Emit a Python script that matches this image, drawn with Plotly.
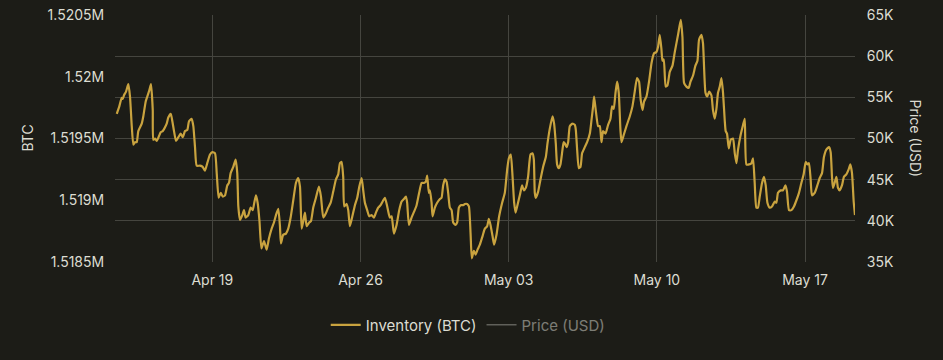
import pandas as pd
import plotly.graph_objects as go

# ---- data ----
start_time = "2021-04-14 00:00"
hours = [
    11.7, 14.6, 17.3, 18.5, 19.9, 22.2, 24.8, 26.7, 28.7, 30.5, 32.4, 34.3, 36.1, 40.0, 41.8, 44.5, 46.3, 48.6, 50.5, 52.5,
    53.1, 55.1, 57.0, 59.6, 61.5, 63.8, 65.6, 68.3, 70.1, 72.9, 74.7, 76.6, 78.9, 81.5, 84.2, 86.5, 89.1, 91.7, 93.6, 96.6,
    98.5, 100.4, 102.3, 106.1, 109.1, 111.7, 114.3, 117.4, 120.0, 123.1, 125.0, 127.2, 129.5, 131.8, 134.4, 137.0, 138.9, 140.8, 143.8, 146.5,
    148.3, 149.5, 151.4, 154.0, 155.9, 157.8, 160.8, 163.5, 165.8, 167.6, 169.5, 171.4, 173.5, 175.7, 178.6, 181.6, 184.2, 187.3, 189.9, 192.2,
    194.8, 196.7, 197.8, 200.4, 203.5, 206.1, 208.8, 211.8, 214.8, 217.4, 219.4, 221.3, 223.1, 225.0, 227.0, 229.9, 231.8, 234.4, 237.5, 240.9,
    243.2, 245.8, 248.5, 251.4, 254.2, 257.1, 260.2, 262.8, 264.7, 266.6, 268.4, 269.6, 272.3, 274.1, 276.0, 279.1, 281.7, 284.3, 286.6, 289.3,
    291.1, 293.0, 295.6, 297.9, 300.6, 303.2, 305.5, 308.1, 310.8, 313.1, 315.7, 318.3, 321.3, 323.3, 325.9, 328.9, 331.9, 334.6, 337.2, 339.5,
    340.9, 342.9, 345.9, 348.9, 351.6, 354.5, 357.3, 359.9, 362.1, 363.6, 365.5, 366.7, 368.6, 369.7, 372.3, 374.9, 378.0, 379.9, 381.7, 383.7,
    385.6, 387.4, 389.3, 391.3, 393.1, 395.8, 397.6, 399.5, 401.5, 404.4, 406.3, 408.9, 410.9, 412.8, 414.2, 416.5, 418.5, 420.7, 423.3, 426.4,
    429.0, 431.6, 433.5, 435.4, 437.7, 439.5, 442.2, 445.2, 448.6, 451.6, 454.3, 456.2, 458.4, 460.4, 462.2, 463.8, 465.6, 468.6, 471.2, 473.2,
    475.4, 478.0, 480.7, 483.0, 484.5, 485.6, 486.7, 489.4, 492.1, 495.0, 498.1, 500.0, 502.6, 505.7, 507.5, 509.4, 510.9, 512.8, 514.7, 517.0,
    518.3, 519.6, 521.6, 523.4, 525.3, 528.4, 531.0, 532.1, 533.6, 535.5, 537.4, 539.2, 542.3, 544.9, 548.0, 549.9, 551.7, 552.8, 554.7, 557.4,
    559.3, 561.2, 563.0, 565.8, 568.7, 571.4, 573.2, 575.1, 577.1, 578.9, 580.8, 582.7, 583.9, 586.5, 589.5, 593.3, 596.3, 598.9, 601.5, 603.8,
    605.7, 607.7, 609.5, 612.2, 615.1, 617.9, 620.8, 623.5, 625.3, 627.3, 629.2, 630.3, 631.8, 634.0, 636.0, 638.6, 641.7, 644.3, 648.0, 651.1,
    653.0, 654.8, 657.5, 660.1, 662.1, 665.0, 667.7, 670.0, 671.8, 674.5, 676.3, 679.1, 681.1, 683.3, 685.8, 687.6, 689.6, 691.5, 693.3, 695.3,
    697.2, 699.0, 700.9, 702.0, 703.5, 705.5, 707.7, 710.3, 712.3, 714.2, 716.0, 719.0, 721.7, 723.6, 725.5, 728.5, 731.2, 733.0, 734.9, 736.8,
    738.6, 740.6, 743.2, 745.4, 747.4, 749.3, 751.9, 754.5, 757.6, 759.5, 761.3, 764.4, 767.0, 769.7, 771.5, 773.8, 776.5, 779.4, 782.2, 785.1,
    787.8, 790.4, 792.7, 794.6, 796.4, 798.3, 799.8, 802.9, 805.9, 808.6, 811.2, 813.4, 816.1, 819.1, 821.0, 822.5, 823.6, 825.5, 827.5, 829.3,
    831.2, 833.8, 836.1, 838.8, 841.4, 843.3, 845.2, 847.1, 848.6,
]
inventory_btc = [
    1519700, 1519760, 1519830, 1519820, 1519850, 1519880, 1519940, 1519840, 1519600, 1519450, 1519470, 1519470, 1519560, 1519620, 1519680, 1519800, 1519840, 1519890, 1519940, 1519730,
    1519490, 1519500, 1519480, 1519520, 1519550, 1519560, 1519580, 1519620, 1519670, 1519700, 1519640, 1519560, 1519480, 1519510, 1519540, 1519510, 1519560, 1519570, 1519640, 1519660,
    1519600, 1519430, 1519280, 1519280, 1519270, 1519240, 1519300, 1519370, 1519390, 1519380, 1519220, 1519020, 1519060, 1519030, 1519040, 1519120, 1519140, 1519220, 1519270, 1519330,
    1519220, 1518950, 1518840, 1518880, 1518920, 1518860, 1518880, 1518940, 1518920, 1518980, 1519040, 1518980, 1518830, 1518610, 1518670, 1518600, 1518690, 1518770, 1518820, 1518880,
    1518930, 1518790, 1518650, 1518720, 1518730, 1518770, 1518860, 1519000, 1519140, 1519180, 1519110, 1518770, 1518830, 1518900, 1518790, 1518820, 1518830, 1518940, 1519020, 1519110,
    1519030, 1518860, 1518890, 1518940, 1518980, 1519070, 1519170, 1519210, 1519300, 1519310, 1519190, 1518950, 1518970, 1518920, 1518790, 1518880, 1518960, 1519020, 1519110, 1519180,
    1519080, 1518980, 1518920, 1518870, 1518880, 1518860, 1518900, 1518940, 1518960, 1518990, 1519020, 1518950, 1518860, 1518870, 1518730, 1518800, 1518920, 1518990, 1519010, 1519030,
    1518980, 1518800, 1518860, 1518910, 1518960, 1519060, 1519140, 1519140, 1519150, 1519200, 1519060, 1519080, 1518980, 1518870, 1518940, 1518980, 1519010, 1519020, 1519120, 1519170,
    1519150, 1519060, 1518940, 1518920, 1518820, 1518800, 1518820, 1518940, 1518960, 1518960, 1518970, 1518970, 1518950, 1518730, 1518530, 1518590, 1518560, 1518600, 1518640, 1518710,
    1518770, 1518790, 1518850, 1518800, 1518710, 1518640, 1518720, 1518870, 1518980, 1519060, 1519250, 1519340, 1519370, 1519190, 1518980, 1518900, 1518950, 1519040, 1519120, 1519080,
    1519100, 1519190, 1519370, 1519380, 1519330, 1519060, 1519020, 1519070, 1519170, 1519270, 1519350, 1519460, 1519580, 1519680, 1519620, 1519460, 1519290, 1519260, 1519290, 1519410,
    1519470, 1519460, 1519430, 1519470, 1519600, 1519620, 1519610, 1519570, 1519410, 1519260, 1519270, 1519380, 1519430, 1519470, 1519540, 1519650, 1519760, 1519840, 1519730, 1519600,
    1519600, 1519470, 1519560, 1519540, 1519610, 1519660, 1519760, 1519740, 1519870, 1519960, 1519870, 1519570, 1519470, 1519530, 1519600, 1519680, 1519760, 1519880, 1519990, 1519960,
    1519810, 1519730, 1519800, 1519840, 1519960, 1520110, 1520190, 1520200, 1520240, 1520340, 1520220, 1520130, 1520140, 1519920, 1519930, 1520040, 1520090, 1520200, 1520340, 1520460,
    1520320, 1519950, 1519920, 1519910, 1519960, 1520010, 1520090, 1520130, 1520300, 1520340, 1520270, 1519870, 1519840, 1519880, 1519850, 1519730, 1519660, 1519740, 1519870, 1519920,
    1519990, 1519870, 1519650, 1519560, 1519540, 1519420, 1519490, 1519500, 1519380, 1519300, 1519410, 1519530, 1519610, 1519660, 1519290, 1519290, 1519300, 1519340, 1519140, 1518940,
    1518940, 1519030, 1519140, 1519190, 1519120, 1518980, 1518940, 1518950, 1518990, 1518980, 1519060, 1519080, 1519080, 1519120, 1519070, 1518920, 1518920, 1518950, 1519000, 1519060,
    1519140, 1519210, 1519310, 1519290, 1519300, 1519170, 1519040, 1519060, 1519120, 1519180, 1519220, 1519350, 1519410, 1519430, 1519390, 1519190, 1519100, 1519140, 1519190, 1519100,
    1519080, 1519120, 1519190, 1519210, 1519250, 1519290, 1519220, 1518990, 1518880,
]
# Price series is hidden (legend-only) in the reference: no values are visible.
price_usd = [None]
price_hours = [None]

x_range_hours = [9.7, 848.6]
week_ticks = ["2021-04-19", "2021-04-26", "2021-05-03", "2021-05-10", "2021-05-17"]
week_labels = ["Apr 19", "Apr 26", "May 03", "May 10", "May 17"]
btc_ticks = [1518500, 1519000, 1519500, 1520000, 1520500]
btc_labels = ["1.5185M", "1.519M", "1.5195M", "1.52M", "1.5205M"]
usd_ticks = [35000, 40000, 45000, 50000, 55000, 60000, 65000]
usd_labels = ["35K", "40K", "45K", "50K", "55K", "60K", "65K"]

# ---- build ----
t0 = pd.Timestamp(start_time)
times = t0 + pd.to_timedelta(hours, unit="h")
xr = [t0 + pd.to_timedelta(h, unit="h") for h in x_range_hours]

BG = "#1c1c17"
GRID = "#45453f"
TXT = "#dcdcd2"
GOLD = "#c9a33f"

fig = go.Figure()
fig.add_trace(go.Scatter(x=times, y=inventory_btc, mode="lines", name="Inventory (BTC)",
                         line=dict(color=GOLD, width=2.2, shape="spline", smoothing=0.5), yaxis="y"))
fig.add_trace(go.Scatter(x=price_hours, y=price_usd, mode="lines", name="Price (USD)",
                         line=dict(color="#e8e8e0", width=1), yaxis="y2", visible="legendonly"))

fig.update_layout(
    width=943, height=360,
    margin=dict(l=115, r=88, t=15, b=98, autoexpand=False),
    paper_bgcolor=BG, plot_bgcolor=BG,
    font=dict(family="Inter, Roboto, sans-serif", size=14, color=TXT),
    showlegend=True,
    legend=dict(orientation="h", xref="container", yref="container",
                x=0.496, xanchor="center", y=0.097, yanchor="middle",
                font=dict(size=15, color=TXT), bgcolor="rgba(0,0,0,0)", itemwidth=30),
    xaxis=dict(type="date", range=xr, tickvals=week_ticks, ticktext=week_labels,
               showgrid=True, gridcolor=GRID, gridwidth=1, zeroline=False, showline=False,
               ticks="outside", ticklen=5, tickcolor="rgba(0,0,0,0)", automargin=False,
               ticklabeloverflow="allow", tickfont=dict(size=14, color=TXT)),
    yaxis=dict(range=[1518500, 1520500], tickvals=btc_ticks, ticktext=btc_labels,
               showgrid=False, zeroline=False, showline=False, automargin=False,
               ticks="outside", ticklen=7, tickcolor="rgba(0,0,0,0)",
               ticklabeloverflow="allow", tickfont=dict(size=14, color=TXT)),
    yaxis2=dict(range=[35000, 65000], tickvals=usd_ticks, ticktext=usd_labels,
                overlaying="y", side="right", showgrid=True, gridcolor=GRID, gridwidth=1,
                zeroline=False, showline=False, automargin=False,
                ticks="outside", ticklen=8, tickcolor="rgba(0,0,0,0)",
                ticklabeloverflow="allow", tickfont=dict(size=14, color=TXT)),
    annotations=[
        dict(text="BTC", xref="paper", yref="paper", x=0.0, y=0.5,
             xanchor="center", yanchor="middle", xshift=-88, textangle=-90,
             showarrow=False, font=dict(size=14, color=TXT)),
        dict(text="Price (USD)", xref="paper", yref="paper", x=1.0, y=0.5,
             xanchor="center", yanchor="middle", xshift=60, textangle=90,
             showarrow=False, font=dict(size=14, color=TXT)),
    ],
)

# remove the browser's default page margin so the figure fills the window exactly
fig.write_html("out.html", config={"displayModeBar": False},
               post_script="document.body.style.margin='0';document.body.style.background='%s';" % BG)
